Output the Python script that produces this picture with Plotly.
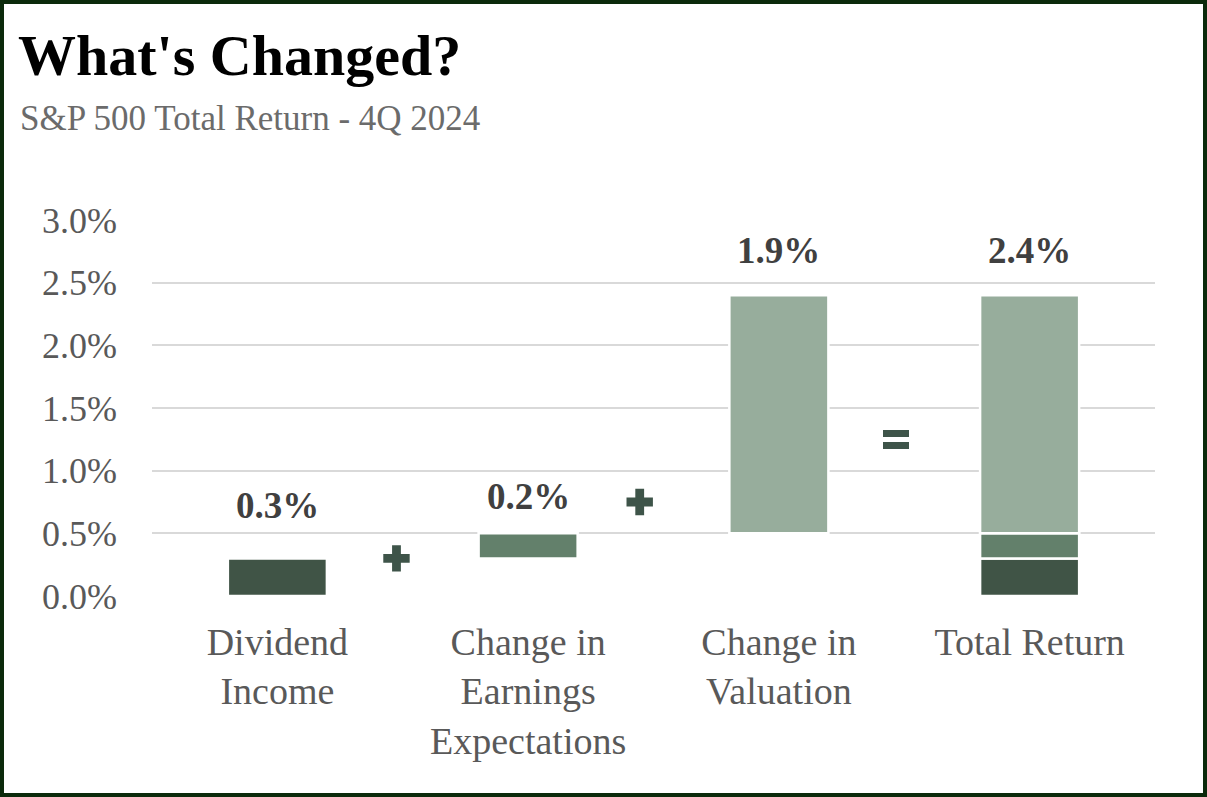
import plotly.graph_objects as go

# ---- data ----
categories = ["Dividend<br>Income", "Change in<br>Earnings<br>Expectations",
              "Change in<br>Valuation", "Total Return"]
component_names = ["Dividend Income", "Change in Earnings Expectations", "Change in Valuation"]
component_values = [0.3, 0.2, 1.9]          # % contribution
total_return = 2.4                          # %
y_ticks = [0.0, 0.5, 1.0, 1.5, 2.0, 2.5, 3.0]

# ---- styling ----
SERIF = "Liberation Serif, Times New Roman, serif"
bar_colors = ["#405446", "#63806b", "#97ad9c"]
sign_color = "#3e5449"
label_offsets = [53, 37, 45, 45]            # px above bar top for value labels

x_pos = list(range(len(categories)))
bar_w = 0.395

fig = go.Figure()

# component bars (floating) + their stacked copy in the Total column
base = 0.0
bases = []
for i, (name, v) in enumerate(zip(component_names, component_values)):
    bases.append(base)
    fig.add_trace(go.Bar(
        x=[x_pos[i], x_pos[-1]], y=[v, v], base=[base, base],
        width=bar_w, name=name,
        marker=dict(color=bar_colors[i], line=dict(color="white", width=2.5)),
        hoverinfo="skip", showlegend=False,
    ))
    base += v

# value labels
tops = [b + v for b, v in zip(bases, component_values)] + [total_return]
vals = component_values + [total_return]
for i, (t, v) in enumerate(zip(tops, vals)):
    fig.add_annotation(x=x_pos[i], y=t, yshift=label_offsets[i], yanchor="middle",
                       text=f"{v:.1f}%", showarrow=False,
                       font=dict(family=SERIF, size=37, color="#404040", weight="bold"))

# operators between columns
plus_x = [0.475, 1.445]
plus_y = [0.30, 0.75]
fig.add_trace(go.Scatter(x=plus_x, y=plus_y, mode="markers",
                         marker=dict(symbol="cross", size=22, color=sign_color,
                                     line=dict(width=0)),
                         hoverinfo="skip", showlegend=False))
eq_x, eq_y = 2.467, 1.245
for s in (6, -6):
    fig.add_annotation(x=eq_x, y=eq_y, yshift=s, text="", showarrow=False,
                       width=26, height=7, bgcolor=sign_color, borderpad=0,
                       borderwidth=0)

L, R, T, B = 152, 52, 220, 201
W, H = 1207, 797
pw, ph = W - L - R, H - T - B

fig.update_layout(
    width=W, height=H,
    margin=dict(l=L, r=R, t=T, b=B),
    paper_bgcolor="white", plot_bgcolor="white",
    barmode="overlay",
    title=dict(text="What's Changed?", x=18 / W, xanchor="left",
               y=1 - 55 / H, yanchor="middle",
               font=dict(family=SERIF, size=58, color="#000000", weight="bold")),
    xaxis=dict(range=[-0.5, 3.5], tickvals=x_pos, ticktext=categories,
               showgrid=False, zeroline=False, showline=False, ticks="",
               ticklabelstandoff=20,
               tickfont=dict(family=SERIF, size=38, color="#595959")),
    yaxis=dict(range=[0, 3.0], tickvals=y_ticks,
               ticktext=[f"{t:.1f}%" for t in y_ticks],
               showgrid=True, gridcolor="#d9d9d9", gridwidth=2,
               zeroline=False, showline=False, ticks="",
               ticklabelstandoff=34,
               tickfont=dict(family=SERIF, size=36, color="#595959")),
)

# subtitle
fig.add_annotation(xref="paper", yref="paper", x=-(L - 18) / pw, y=1 + (T - 118) / ph,
                   xanchor="left", yanchor="middle", text="S&P 500 Total Return - 4Q 2024",
                   showarrow=False, font=dict(family=SERIF, size=35, color="#6b6b6b"))

# outer border
fig.add_shape(type="rect", xref="paper", yref="paper",
              x0=-(L - 2) / pw, x1=1 + (R - 2) / pw,
              y0=-(B - 2) / ph, y1=1 + (T - 2) / ph,
              line=dict(color="#0b2a0b", width=4), fillcolor="rgba(0,0,0,0)", layer="above")

fig.write_html("out.html", config={"displayModeBar": False},
               post_script="document.body.style.margin='0';document.body.style.overflow='hidden';")
